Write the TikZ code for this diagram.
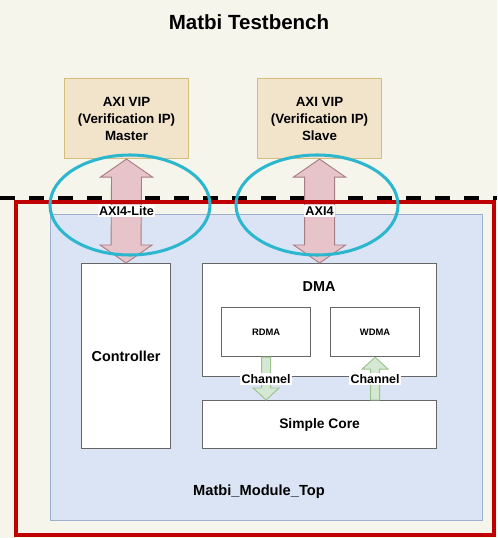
\documentclass[tikz,border=0pt]{standalone}
\usepackage{fontspec}
\setmainfont{Liberation Sans}
\usetikzlibrary{positioning,calc}
\definecolor{BenchBg}{HTML}{F5F5EC}
\definecolor{VipFill}{HTML}{F2E3CB}
\definecolor{VipLine}{HTML}{D4BC7C}
\definecolor{BusFill}{HTML}{E7C4C9}
\definecolor{BusLine}{HTML}{A77D83}
\definecolor{ChanFill}{HTML}{D5E8D4}
\definecolor{ChanLine}{HTML}{9CC38C}
\definecolor{TopFill}{HTML}{DBE4F4}
\definecolor{TopLine}{HTML}{9DB0D0}
\definecolor{BoxLine}{HTML}{666666}
\definecolor{DutRed}{HTML}{C00000}
\definecolor{FocusCyan}{HTML}{2DB7CF}
\newcommand{\px}{0.03cm}
\newcommand{\fs}[2]{\fontsize{#1}{#2}\selectfont\bfseries}
\tikzset{
  vipbox/.style={draw=VipLine,fill=VipFill,line width=0.9pt,anchor=north west,inner sep=0pt,
    minimum width=124*\px,minimum height=80*\px,align=center,font=\fs{11.4}{14.5}},
  hwbox/.style={draw=BoxLine,fill=white,line width=1pt,anchor=north west,inner sep=0pt},
  busflow/.style={draw=BusLine,fill=BusFill,line width=0.8pt,line join=miter},
  chanflow/.style={draw=ChanLine,fill=ChanFill,line width=0.8pt,line join=miter},
  buslabel/.style={fill=white,inner sep=1pt,font=\fs{10.8}{12}},
  chanlabel/.style={fill=white,inner sep=1pt,font=\fs{10.6}{12}},
  focus/.style={draw=FocusCyan,line width=2.6pt}
}

\begin{document}
\begin{tikzpicture}[x=\px,y=-\px]
  \useasboundingbox[fill=BenchBg] (0,0) rectangle (497,538);
  \node[font=\fs{17.5}{20}] (title) at (249,22) {Matbi Testbench};
  % verification IPs
  \node[vipbox] (master) at (64,78) {AXI VIP\\(Verification IP)\\Master};
  \node[vipbox] (slave) at (257,78) {AXI VIP\\(Verification IP)\\Slave};
  % testbench / DUT boundary
  \draw[line width=3pt,dash pattern=on 15*\px off 14*\px] (0,198) -- (497,198);
  \node[draw=TopLine,fill=TopFill,line width=0.8pt,anchor=north west,inner sep=0pt,
    minimum width=432*\px,minimum height=306*\px] (top) at (50,214) {};
  \node[font=\fs{12.5}{14}] (toplabel) at (259,492) {Matbi\_Module\_Top};
  % blocks
  \node[hwbox,minimum width=89*\px,minimum height=185*\px,font=\fs{12.3}{14}] (ctrl) at (81,263) {Controller};
  \node[hwbox,minimum width=234*\px,minimum height=113*\px] (dma) at (202,263) {};
  \node[font=\fs{12.3}{14}] (dmalabel) at (319,287) {DMA};
  \node[hwbox,minimum width=89*\px,minimum height=49*\px,font=\fs{8}{10}] (rdma) at (221,307) {RDMA};
  \node[hwbox,minimum width=89*\px,minimum height=49*\px,font=\fs{8}{10}] (wdma) at (330,307) {WDMA};
  \node[hwbox,minimum width=234*\px,minimum height=48*\px,font=\fs{11.8}{14}] (core) at (202,400) {Simple Core};
  % AXI buses
  \draw[busflow] (master.south) -- ++(26,18) -- ++(-11,0) -- ($(ctrl.north)+(15,-18)$) -- ++(11,0)
    -- (ctrl.north) -- ++(-26,-18) -- ++(11,0) -- ($(master.south)+(-15,18)$) -- ++(-11,0) -- cycle;
  \draw[busflow] (slave.south) -- ++(26,18) -- ++(-11,0) -- ($(dma.north)+(15,-18)$) -- ++(11,0)
    -- (dma.north) -- ++(-26,-18) -- ++(11,0) -- ($(slave.south)+(-15,18)$) -- ++(-11,0) -- cycle;
  \draw[DutRed,line width=2.6pt] (16,202) rectangle (494,535);
  \node[buslabel] (lite) at (master.south |- 0,211) {AXI4-Lite};
  \node[buslabel] (full) at (slave.south |- 0,211) {AXI4};
  % channels
  \coordinate (rdin) at (rdma.south |- core.north);
  \coordinate (wdout) at (wdma.south |- core.north);
  \draw[chanflow] ($(rdma.south)+(-4.5,0)$) -- ($(rdin)+(-4.5,-12)$) -- ++(-8.5,0) -- (rdin)
    -- ++(13,-12) -- ++(-8.5,0) -- ($(rdma.south)+(4.5,0)$) -- cycle;
  \draw[chanflow] ($(wdout)+(-4.5,0)$) -- ($(wdma.south)+(-4.5,12)$) -- ++(-8.5,0) -- (wdma.south)
    -- ++(13,12) -- ++(-8.5,0) -- ($(wdout)+(4.5,0)$) -- cycle;
  \node[chanlabel] (rdch) at ($(rdma.south |- dma.south)+(0,2)$) {Channel};
  \node[chanlabel] (wrch) at ($(wdma.south |- dma.south)+(0,2)$) {Channel};
  % highlighted interfaces
  \draw[focus] (130,205) ellipse [x radius=80,y radius=50];
  \draw[focus] (317,205) ellipse [x radius=81,y radius=50];
\end{tikzpicture}
\end{document}
